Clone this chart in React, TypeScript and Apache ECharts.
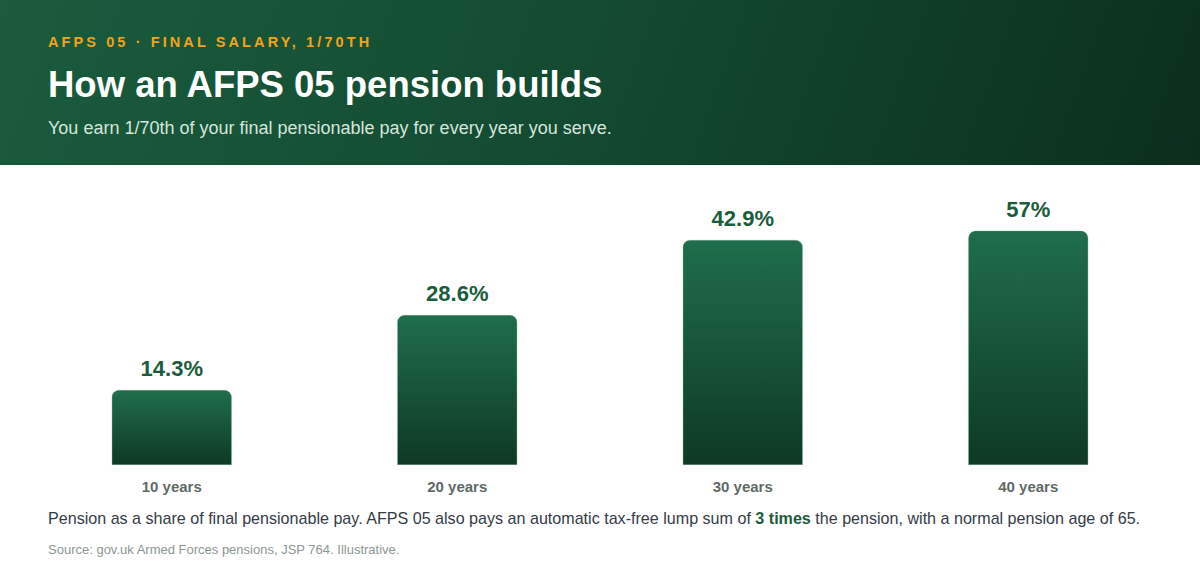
import React, { useEffect, useRef } from "react";
import * as echarts from "echarts";

const FONT = '"Liberation Sans", Arial, Helvetica, sans-serif';

const eyebrow = "AFPS 05 · FINAL SALARY, 1/70TH";
const title = "How an AFPS 05 pension builds";
const subtitle = "You earn 1/70th of your final pensionable pay for every year you serve.";

const categories = ["10 years", "20 years", "30 years", "40 years"];
const shares = [14.3, 28.6, 42.9, 57];
const shareLabels = ["14.3%", "28.6%", "42.9%", "57%"];
// top of the plot cuts the last bar, as in the original
const axisMax = 44.6;

const App = () => {
	const chartRef = useRef<HTMLDivElement>(null);

	useEffect(() => {
		document.body.style.margin = "0";
		if (!chartRef.current) return;
		const chart = echarts.init(chartRef.current, null, { renderer: "svg" });

		const option = {
			animation: false,
			grid: { left: 29, right: 29, top: 66, bottom: 45 },
			xAxis: {
				type: "category",
				data: categories,
				axisLine: { show: false },
				axisTick: { show: false },
				axisLabel: {
					margin: 14,
					color: "#5f6b66",
					fontFamily: FONT,
					fontSize: 15,
					fontWeight: "bold",
				},
			},
			yAxis: {
				type: "value",
				min: 0,
				max: axisMax,
				show: false,
				splitLine: { show: false },
			},
			series: [
				{
					type: "bar",
					data: shares,
					barWidth: 120,
					clip: true,
					itemStyle: {
						borderRadius: [7, 7, 0, 0],
						borderColor: "rgba(120,160,138,0.6)",
						borderWidth: 0.6,
						color: new echarts.graphic.LinearGradient(0, 0, 0, 1, [
							{ offset: 0, color: "#1f6e4b" },
							{ offset: 1, color: "#0e3925" },
						]),
					},
					label: {
						show: true,
						position: "top",
						distance: 10,
						formatter: (p) => shareLabels[p.dataIndex],
						color: "#1b5c3d",
						fontFamily: FONT,
						fontSize: 22,
						fontWeight: "bold",
					},
				},
			],
		};

		chart.setOption(option);
		return () => chart.dispose();
	}, []);

	return (
		<div style={{ position: "relative", width: 1200, height: 585, fontFamily: FONT, background: "#fff", overflow: "hidden" }}>
			<div
				style={{
					position: "absolute",
					left: 0,
					top: 0,
					width: 1200,
					height: 165,
					background: "linear-gradient(110deg, #1a5c3d 0%, #134a31 50%, #0b2e1d 100%)",
				}}
			>
				<div style={{ position: "absolute", left: 48, top: 34, color: "#f2a31b", fontSize: 14.5, fontWeight: "bold", letterSpacing: 3.1, whiteSpace: "nowrap" }}>
					{eyebrow}
				</div>
				<div style={{ position: "absolute", left: 48, top: 64, color: "#ffffff", fontSize: 36.5, fontWeight: "bold", whiteSpace: "nowrap" }}>
					{title}
				</div>
				<div style={{ position: "absolute", left: 48, top: 118, color: "#d5e6dc", fontSize: 18, whiteSpace: "nowrap" }}>
					{subtitle}
				</div>
			</div>
			<div ref={chartRef} style={{ position: "absolute", left: 0, top: 165, width: 1200, height: 345 }} />
			<div style={{ position: "absolute", left: 48, top: 509, color: "#333c47", fontSize: 16.1, whiteSpace: "nowrap" }}>
				Pension as a share of final pensionable pay. AFPS 05 also pays an automatic tax-free lump sum of{" "}
				<b style={{ color: "#1b5c3d" }}>3 times</b> the pension, with a normal pension age of 65.
			</div>
			<div style={{ position: "absolute", left: 48, top: 542, color: "#8b9892", fontSize: 13, whiteSpace: "nowrap" }}>
				Source: gov.uk Armed Forces pensions, JSP 764. Illustrative.
			</div>
		</div>
	);
};

export default App;
